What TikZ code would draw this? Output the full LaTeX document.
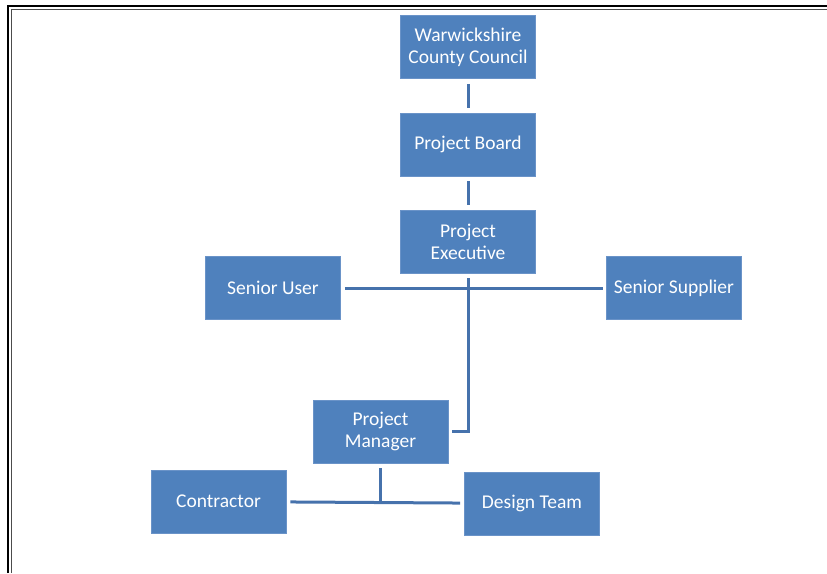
\documentclass[tikz,border=0pt]{standalone}
\usepackage{fontspec}
\setmainfont{Carlito}
\definecolor{boxblue}{HTML}{4F81BD}
\definecolor{boxedge}{HTML}{6A93C8}
\definecolor{linkblue}{HTML}{4672AC}
\begin{document}
\begin{tikzpicture}[x=1pt,y=-1pt,
  role/.style={fill=boxblue,draw=boxedge,line width=0.8pt,text=white,align=center,
    minimum width=135pt,minimum height=63pt,inner sep=1pt,font=\fontsize{19.5}{22}\selectfont},
  link/.style={draw=linkblue,line width=3pt,shorten <=5pt,shorten >=5pt}]
\useasboundingbox (0,0) rectangle (827,573);

% frame
\draw[line width=1.3pt] (8,573) -- (8,6) -- (827,6);
\draw[line width=1pt,black!70] (11,573) -- (11,9.5) -- (827,9.5);

\node[role] (wcc) at (468,47) {Warwickshire\\County Council};
\node[role] (board) at (468,144.5) {Project Board};
\node[role] (exec) at (468,241.5) {Project\\Executive};
\node[role] (user) at (273,288) {Senior User};
\node[role] (supp) at (674,288) {Senior Supplier};
\node[role] (pm) at (380.5,431.5) {Project\\Manager};
\node[role] (con) at (218.5,501.5) {Contractor};
\node[role] (dt) at (532,503.5) {Design Team};

\draw[link] (wcc) -- (board);
\draw[link] (board) -- (exec);
\draw[link,shorten <=4pt,shorten >=3pt] (user) -- (supp);
\draw[link,shorten >=4pt] (exec) |- (pm);
\draw[link,shorten >=0pt] (pm.south) -- (pm.south |- con.east);
\draw[link,shorten <=4pt,shorten >=4pt] (con) -- (dt);

\end{tikzpicture}
\end{document}
